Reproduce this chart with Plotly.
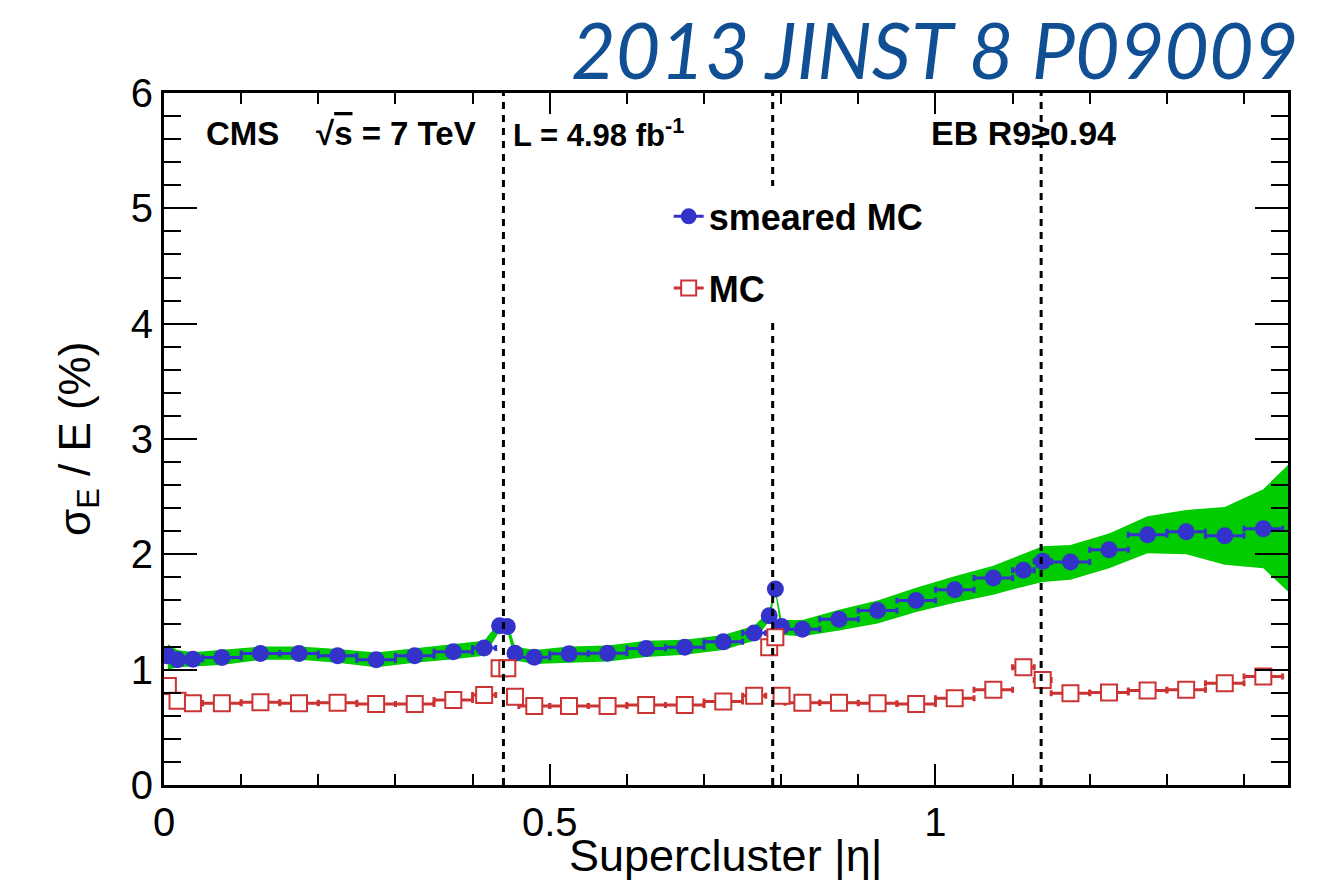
import plotly.graph_objects as go

# Bin edges in supercluster |eta|
eta_lo = [0.0, 0.01, 0.025, 0.05, 0.1, 0.15, 0.2, 0.25, 0.3, 0.35,
          0.4, 0.43, 0.44, 0.45, 0.46, 0.5, 0.55, 0.6, 0.65, 0.7,
          0.75, 0.78, 0.789, 0.796, 0.805, 0.85, 0.9, 0.95, 1.0, 1.05,
          1.1, 1.128, 1.15, 1.2, 1.25, 1.3, 1.35, 1.4]
eta_hi = [0.01, 0.025, 0.05, 0.1, 0.15, 0.2, 0.25, 0.3, 0.35, 0.4,
          0.43, 0.44, 0.45, 0.46, 0.5, 0.55, 0.6, 0.65, 0.7, 0.75,
          0.78, 0.789, 0.796, 0.805, 0.85, 0.9, 0.95, 1.0, 1.05, 1.1,
          1.128, 1.15, 1.2, 1.25, 1.3, 1.35, 1.4, 1.45]

# Relative energy resolution sigma_E/E (%)
smeared_mc = [1.12, 1.085, 1.09, 1.105, 1.14, 1.14, 1.12, 1.085, 1.12, 1.155,
              1.187, 1.38, 1.375, 1.143, 1.108, 1.137, 1.143, 1.183, 1.195, 1.241,
              1.317, 1.467, 1.70, 1.374, 1.351, 1.438, 1.513, 1.60, 1.693, 1.794,
              1.861, 1.939, 1.933, 2.04, 2.17, 2.196, 2.161, 2.222]
mc = [0.859, 0.73, 0.709, 0.709, 0.718, 0.709, 0.714, 0.703, 0.703, 0.738,
      0.781, 1.013, 1.013, 0.766, 0.686, 0.686, 0.686, 0.694, 0.694, 0.723,
      0.773, 1.195, 1.282, 0.773, 0.714, 0.714, 0.709, 0.703, 0.753, 0.825,
      1.022, 0.911, 0.796, 0.801, 0.819, 0.825, 0.883, 0.94]

# Systematic band around the smeared MC (lower / upper edge), last entry at the axis end
band_eta_end = 1.457
band_lo = [1.00, 1.02, 1.03, 1.04, 1.085, 1.085, 1.06, 1.022, 1.06, 1.09,
           1.12, 1.33, 1.33, 1.08, 1.05, 1.06, 1.07, 1.11, 1.13, 1.17,
           1.25, 1.42, 1.67, 1.30, 1.29, 1.34, 1.40, 1.50, 1.58, 1.65,
           1.72, 1.76, 1.78, 1.88, 2.01, 2.00, 1.91, 1.88, 1.677]
band_hi = [1.22, 1.17, 1.15, 1.17, 1.20, 1.20, 1.18, 1.148, 1.185, 1.22,
           1.25, 1.42, 1.42, 1.20, 1.17, 1.20, 1.21, 1.25, 1.26, 1.30,
           1.38, 1.51, 1.72, 1.43, 1.43, 1.52, 1.60, 1.71, 1.81, 1.90,
           2.00, 2.07, 2.08, 2.18, 2.33, 2.385, 2.41, 2.565, 2.775]

# ECAL module boundaries
module_edges = [0.44, 0.789, 1.137]

eta_c = [(a + b) / 2 for a, b in zip(eta_lo, eta_hi)]
eta_hw = [(b - a) / 2 for a, b in zip(eta_lo, eta_hi)]

BLUE = "#3333cc"
RED = "#cc3333"
GREEN = "#00cc00"
FONT = "Liberation Sans, Arial, Helvetica, sans-serif"

fig = go.Figure()

band_x = eta_c + [band_eta_end]
fig.add_trace(go.Scatter(
    x=band_x + band_x[::-1],
    y=band_hi + band_lo[::-1],
    fill="toself", fillcolor=GREEN, line=dict(width=0, color=GREEN),
    mode="lines", hoverinfo="skip", showlegend=False,
))

fig.add_trace(go.Scatter(
    x=eta_c, y=smeared_mc, mode="markers",
    marker=dict(symbol="circle", size=17, color=BLUE, line=dict(width=0)),
    error_x=dict(type="data", array=eta_hw, color=BLUE, thickness=3, width=3),
    showlegend=False,
))

fig.add_trace(go.Scatter(
    x=eta_c, y=mc, mode="markers",
    marker=dict(symbol="square", size=16, color="white", line=dict(width=2, color=RED)),
    error_x=dict(type="data", array=eta_hw, color=RED, thickness=3, width=3),
    showlegend=False,
))

# legend entries
fig.add_trace(go.Scatter(
    x=[None], y=[None], mode="lines+markers", name="<b>smeared MC</b>",
    line=dict(color=BLUE, width=3),
    marker=dict(symbol="circle", size=16, color=BLUE), legendgroup="a",
))
fig.add_trace(go.Scatter(
    x=[None], y=[None], mode="lines+markers", name="<b>MC</b>",
    line=dict(color=RED, width=3),
    marker=dict(symbol="square", size=15, color="white", line=dict(width=2, color=RED)),
    legendgroup="b",
))

for xe in module_edges:
    fig.add_shape(type="line", xref="x", yref="paper", x0=xe, x1=xe, y0=0, y1=1,
                  line=dict(color="black", width=3, dash="7px,6px"), layer="above")

axis_common = dict(
    showline=True, linecolor="black", linewidth=3, mirror="allticks",
    ticks="inside", tickcolor="black", tickwidth=2,
    showgrid=False, zeroline=False,
    tickfont=dict(family=FONT, size=40, color="black"),
)

fig.update_xaxes(range=[0, 1.457], dtick=0.5, tick0=0, ticklen=21,
                 minor=dict(dtick=0.1, tick0=0, ticks="inside", ticklen=11,
                            tickwidth=2, tickcolor="black"),
                 **axis_common)
fig.update_yaxes(range=[0, 6], dtick=1, tick0=0, ticklen=33,
                 minor=dict(dtick=0.2, tick0=0, ticks="inside", ticklen=17,
                            tickwidth=2, tickcolor="black"),
                 **axis_common)

HDR = 32
annotations = [
    dict(text="σ<sub>E</sub> / E (%)", xref="paper", yref="paper", x=0, y=0.5,
         xanchor="center", yanchor="middle", xshift=-86, textangle=-90, showarrow=False,
         font=dict(family=FONT, size=44, color="black")),
    dict(text="Supercluster |η|", xref="paper", yref="paper", x=0.5, y=0,
         xanchor="center", yanchor="middle", yshift=-70, showarrow=False,
         font=dict(family=FONT, size=45, color="black")),
    dict(text="<b>CMS\u00a0\u00a0\u00a0\u00a0√<span style='text-decoration:overline'>s</span> = 7 TeV</b>",
         xref="paper", yref="paper", x=0, y=1, xanchor="left", yanchor="middle",
         xshift=40, yshift=-40, showarrow=False,
         font=dict(family=FONT, size=HDR + 1, color="black")),
    dict(text="<b>L = 4.98 fb<sup>-1</sup></b>",
         xref="paper", yref="paper", x=0, y=1, xanchor="left", yanchor="middle",
         xshift=347, yshift=-40, showarrow=False,
         font=dict(family=FONT, size=HDR - 1, color="black")),
    dict(text="<b>EB R9≥0.94</b>",
         xref="paper", yref="paper", x=0, y=1, xanchor="left", yanchor="middle",
         xshift=765, yshift=-40, showarrow=False,
         font=dict(family=FONT, size=HDR + 2, color="black")),
    dict(text="<i>2013 JINST 8 P09009</i>",
         xref="paper", yref="paper", x=1, y=1, xanchor="right", yanchor="middle",
         xshift=12, yshift=44, showarrow=False,
         font=dict(family="Lato, Open Sans, sans-serif", size=77, color="#104f93")),
]

fig.update_layout(
    width=1341, height=880,
    margin=dict(l=164, r=53, t=93, b=95),
    paper_bgcolor="white", plot_bgcolor="white",
    annotations=annotations,
    showlegend=True,
    legend=dict(x=0.449, y=0.865, xanchor="left", yanchor="top",
                bgcolor="white", borderwidth=0,
                font=dict(family=FONT, size=36, color="black"),
                tracegroupgap=22, itemsizing="trace"),
)

fig.write_html("out.html")
